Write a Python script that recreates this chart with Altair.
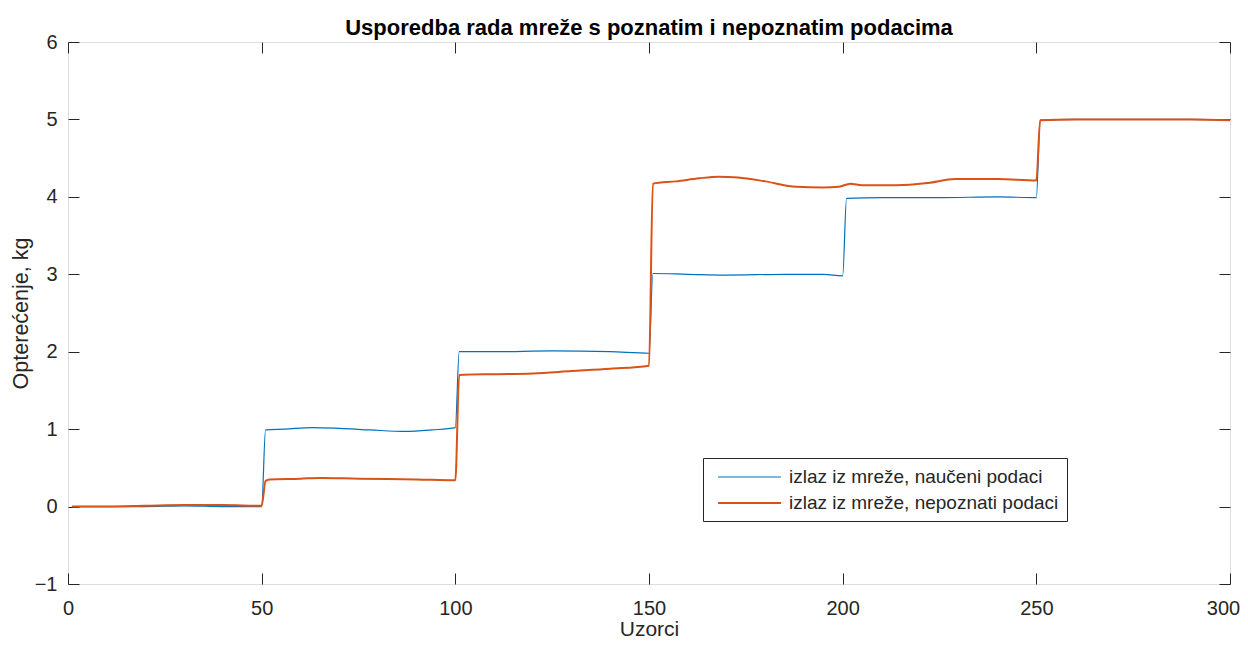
import altair as alt
import pandas as pd

# Series: blue = learned data output, orange = unknown data output
blue_x = [1, 10, 20, 30, 40, 50, 51, 56, 63, 70, 78, 87, 94, 100, 101, 110, 125, 140, 150,
          151, 160, 170, 185, 195, 200, 201, 210, 225, 240, 250, 251, 260, 275, 290, 300]
blue_y = [0.0, 0.0, 0.0, 0.01, 0.0, 0.0, 0.99, 1.0, 1.02, 1.01, 0.99, 0.97, 0.99, 1.02, 2.0, 2.0, 2.01, 2.0, 1.98,
          3.01, 3.0, 2.99, 3.0, 3.0, 2.98, 3.98, 3.99, 3.99, 4.0, 3.99, 4.99, 5.0, 5.0, 5.0, 4.99]

orange_x = [1, 10, 20, 30, 40, 50, 51, 52, 60, 65, 75, 90, 100, 101, 110, 120, 130, 140, 150,
            151, 157, 163, 168, 173, 180, 188, 195, 199, 202, 205, 214, 222, 229, 240, 250,
            251, 260, 275, 290, 300]
orange_y = [0.0, 0.0, 0.01, 0.02, 0.02, 0.01, 0.33, 0.35, 0.36, 0.37, 0.36, 0.35, 0.34, 1.70, 1.71, 1.72, 1.75, 1.78, 1.82,
            4.17, 4.20, 4.24, 4.26, 4.25, 4.20, 4.13, 4.12, 4.13, 4.17, 4.15, 4.15, 4.18, 4.23, 4.23, 4.21,
            4.99, 5.0, 5.0, 5.0, 4.99]

series_names = ["izlaz iz mreže, naučeni podaci", "izlaz iz mreže, nepoznati podaci"]
series_colors = ["#0072BD", "#D95319"]
series_widths = [1.2, 2.0]

x_ticks = [0, 50, 100, 150, 200, 250, 300]
y_ticks = [-1, 0, 1, 2, 3, 4, 5, 6]

df = pd.concat([
    pd.DataFrame({"x": blue_x, "y": blue_y, "s": series_names[0], "o": 0}),
    pd.DataFrame({"x": orange_x, "y": orange_y, "s": series_names[1], "o": 1}),
])

AX = "#262626"
FONT = "Liberation Sans"

color = alt.Color("s:N", scale=alt.Scale(domain=series_names, range=series_colors),
                  legend=alt.Legend(title=None, orient="none", legendX=635, legendY=416,
                                    symbolType="M-3.15,0H3.15", symbolSize=400, symbolStrokeWidth=1.6,
                                    labelFontSize=19, labelFont=FONT, labelColor=AX,
                                    strokeColor=AX, fillColor="white", padding=8, symbolOffset=27.5,
                                    rowPadding=5, labelOffset=28.5, labelLimit=400))
width_enc = alt.StrokeWidth("s:N", scale=alt.Scale(domain=series_names, range=series_widths), legend=None)

main = alt.Chart(df).mark_line(interpolate="monotone").encode(
    x=alt.X("x:Q", scale=alt.Scale(domain=[0, 300], nice=False),
            axis=alt.Axis(orient="bottom", values=x_ticks, offset=-11, tickSize=11, tickColor=AX,
                          domain=False, grid=False, labelPadding=14, labelFontSize=20, labelFont=FONT,
                          labelColor=AX, title="Uzorci", titleFontSize=21, titleFont=FONT,
                          titleFontWeight="normal", titleColor=AX, titlePadding=0, labelFlush=False,
                          labelOffset=alt.expr("datum.value == 300 ? -7 : 0"))),
    y=alt.Y("y:Q", scale=alt.Scale(domain=[-1, 6], nice=False),
            axis=alt.Axis(orient="left", values=y_ticks, offset=-11, tickSize=11, tickColor=AX,
                          domain=False, grid=False, labelPadding=11, labelFontSize=20, labelFont=FONT,
                          labelColor=AX, title="Opterećenje, kg", titleFontSize=21.5, titleFont=FONT,
                          titleFontWeight="normal", titleColor=AX, titlePadding=2, labelFlush=False)),
    color=color,
    strokeWidth=width_enc,
    order="o:Q",
)

ghost = alt.Chart(df).mark_point(opacity=0).encode(
    x=alt.X("x:Q", scale=alt.Scale(domain=[0, 300], nice=False),
            axis=alt.Axis(orient="top", values=x_ticks, offset=-11, tickSize=11, tickColor=AX,
                          domain=False, grid=False, labels=False, title=None)),
    y=alt.Y("y:Q", scale=alt.Scale(domain=[-1, 6], nice=False),
            axis=alt.Axis(orient="right", values=y_ticks, offset=-11, tickSize=11, tickColor=AX,
                          domain=False, grid=False, labels=False, title=None)),
)

chart = alt.layer(main, ghost).resolve_scale(x="independent", y="independent").resolve_axis(
    x="independent", y="independent"
).properties(
    width=1162, height=542,
    autosize=alt.AutoSizeParams(type="none"),
    padding={"left": 60, "top": 34, "right": 10, "bottom": 56},
    title=alt.TitleParams("Usporedba rada mreže s poznatim i nepoznatim podacima", fontSize=22,
                          font=FONT, fontWeight="bold", color="black", anchor="middle", offset=4, dy=12),
).configure_view(stroke=AX, strokeWidth=1).configure(background="white")

chart.save("out.html", embed_options={"renderer": "svg", "actions": False})
